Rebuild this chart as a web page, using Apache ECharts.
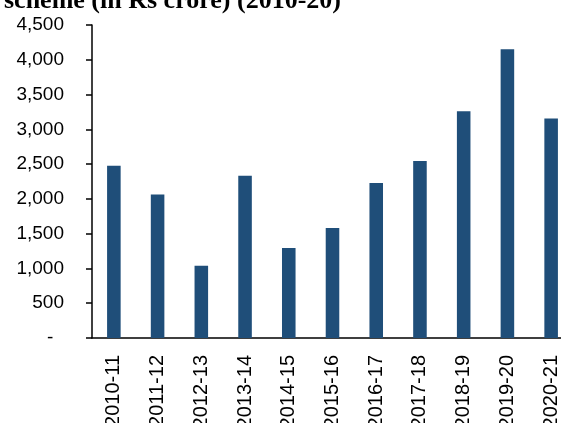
<!DOCTYPE html>
<html>
<head>
<meta charset="utf-8">
<script src="https://cdn.jsdelivr.net/npm/echarts@6/dist/echarts.min.js"></script>
<style>
html,body{margin:0;padding:0;background:#fff;}
#chart{width:561px;height:423px;}
</style>
</head>
<body>
<div id="chart"></div>
<script>
var categories = ['2010-11','2011-12','2012-13','2013-14','2014-15','2015-16','2016-17','2017-18','2018-19','2019-20','2020-21'];
var values = [2476, 2064, 1039, 2332, 1293, 1580, 2227, 2543, 3261, 4152, 3156];
var titleText = 'scheme (in Rs crore) (2010-20)';

var chart = echarts.init(document.getElementById('chart'), null, {renderer:'canvas'});
chart.setOption({
  animation: false,
  backgroundColor: '#fff',
  title: {
    text: titleText,
    left: -1,
    top: -17,
    textStyle: {fontFamily: '"Liberation Serif","Times New Roman",serif', fontWeight: 'bold', fontSize: 26, color: '#000'}
  },
  grid: {left: 92, top: 25, width: 481, height: 313, containLabel: false, outerBoundsMode: 'none'},
  xAxis: {
    type: 'category',
    data: categories,
    axisLine: {show: true, lineStyle: {color: '#000', width: 1.5}},
    axisTick: {show: false},
    axisLabel: {rotate: 90, margin: 17, fontSize: 20, color: '#000', fontFamily: '"Liberation Sans",Arial,sans-serif', interval: 0}
  },
  yAxis: {
    type: 'value',
    min: 0, max: 4500, interval: 500,
    splitLine: {show: false},
    axisLine: {show: true, lineStyle: {color: '#000', width: 1.5}},
    axisTick: {show: true, length: 6, inside: false, lineStyle: {color: '#000', width: 1.5}},
    axisLabel: {
      margin: 28, fontSize: 19, color: '#000', fontFamily: '"Liberation Sans",Arial,sans-serif',
      formatter: function (v) { return v === 0 ? '-\u00a0\u00a0' : v.toLocaleString('en-US'); }
    }
  },
  series: [{
    type: 'bar',
    data: values,
    barWidth: '31%',
    itemStyle: {color: '#1f4e79'}
  }]
});
</script>
</body>
</html>
